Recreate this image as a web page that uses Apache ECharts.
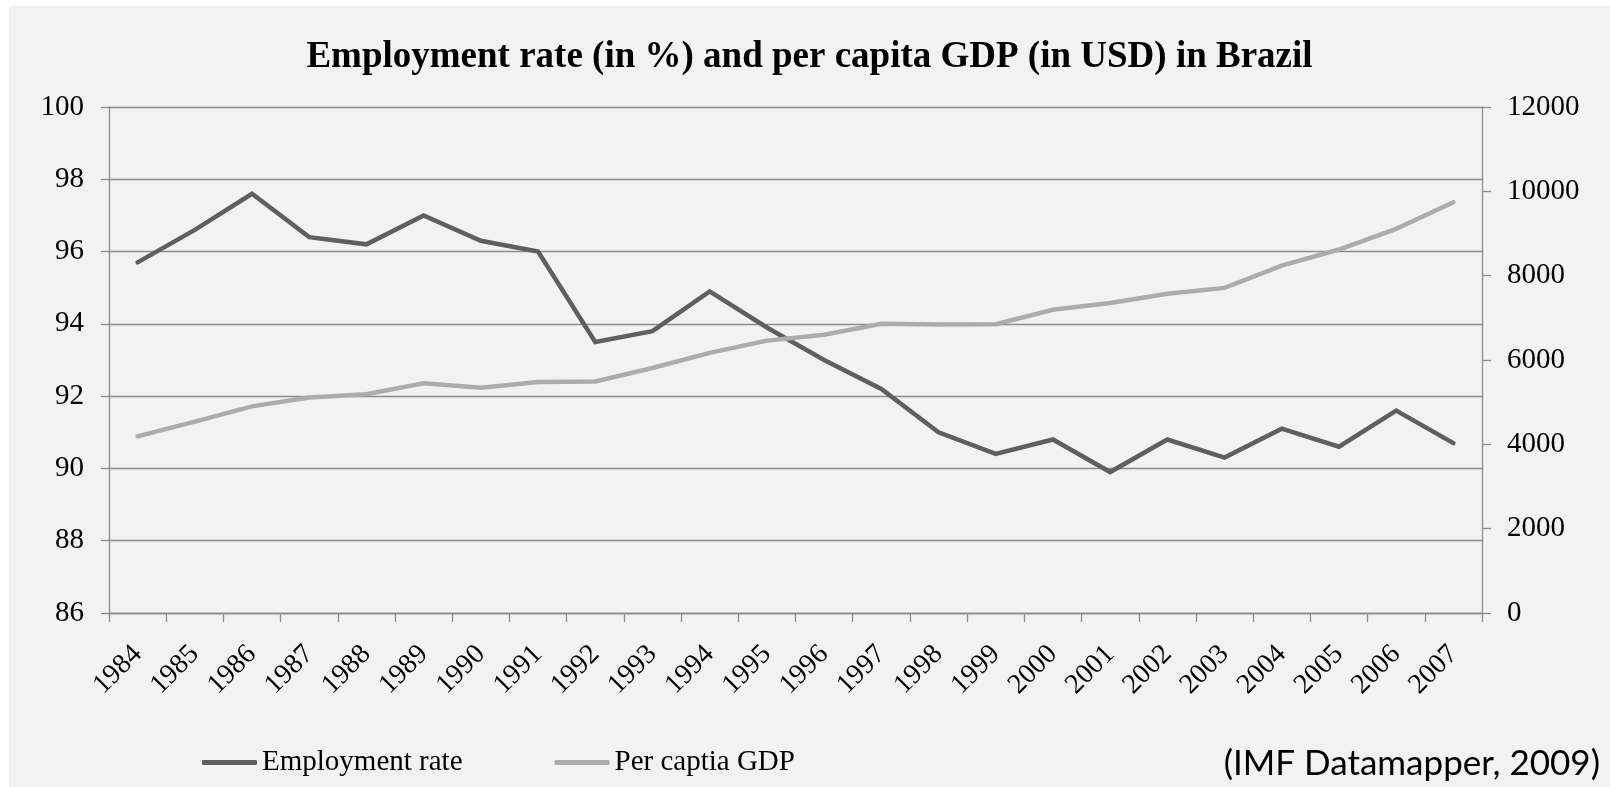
<!DOCTYPE html>
<html>
<head>
<meta charset="utf-8">
<script src="https://cdn.jsdelivr.net/npm/echarts@6/dist/echarts.min.js"></script>
<style>
  html, body { margin: 0; padding: 0; background: #ffffff; }
  #main { position: absolute; left: 9px; top: 6px; width: 1601px; height: 781px; }
</style>
</head>
<body>
<div id="main"></div>
<script>
const years = ['1984','1985','1986','1987','1988','1989','1990','1991','1992','1993','1994','1995',
               '1996','1997','1998','1999','2000','2001','2002','2003','2004','2005','2006','2007'];
const employmentRate = [95.7, 96.6, 97.6, 96.4, 96.2, 97.0, 96.3, 96.0, 93.5, 93.8, 94.9, 93.9,
                        93.0, 92.2, 91.0, 90.4, 90.8, 89.9, 90.8, 90.3, 91.1, 90.6, 91.6, 90.7];
const perCapitaGDP = [4190, 4540, 4900, 5110, 5190, 5450, 5340, 5480, 5490, 5810, 6170, 6460,
                      6600, 6860, 6840, 6850, 7190, 7350, 7570, 7710, 8240, 8620, 9110, 9740];
const titleText = 'Employment rate (in %) and per capita GDP (in USD) in Brazil';
const seriesNames = ['Employment rate', 'Per captia GDP'];
const sourceText = '(IMF Datamapper, 2009)';

const serif = '"Liberation Serif", "Times New Roman", serif';
const axisGray = '#8c8c8c';

const chart = echarts.init(document.getElementById('main'));
chart.setOption({
  backgroundColor: '#f2f2f2',
  animation: false,
  title: {
    text: titleText,
    left: 'center',
    top: 28,
    textStyle: { fontFamily: serif, fontSize: 37, fontWeight: 'bold', color: '#000' }
  },
  legend: {
    data: seriesNames,
    left: 188,
    top: 737,
    icon: 'roundRect',
    itemWidth: 55,
    itemHeight: 5,
    itemGap: 92,
    textStyle: { fontFamily: serif, fontSize: 29, color: '#000' }
  },
  grid: { left: 100, top: 101, right: 128, bottom: 174, containLabel: false },
  xAxis: {
    type: 'category',
    data: years,
    boundaryGap: true,
    axisLine: { show: true, lineStyle: { color: axisGray, width: 1.3 } },
    axisTick: { show: true, length: 9, interval: 0, lineStyle: { color: axisGray, width: 1.3 } },
    axisLabel: { interval: 0, rotate: 45, margin: 37, fontFamily: serif, fontSize: 28, color: '#000' },
    splitLine: { show: false }
  },
  yAxis: [
    {
      type: 'value', min: 86, max: 100, interval: 2, position: 'left',
      axisLine: { show: true, lineStyle: { color: axisGray, width: 1.3 } },
      axisTick: { show: true, length: 8, lineStyle: { color: axisGray, width: 1.3 } },
      axisLabel: { margin: 25, fontFamily: serif, fontSize: 29, color: '#000' },
      splitLine: { show: true, lineStyle: { color: axisGray, width: 1.3 } }
    },
    {
      type: 'value', min: 0, max: 12000, interval: 2000, position: 'right',
      axisLine: { show: true, lineStyle: { color: axisGray, width: 1.3 } },
      axisTick: { show: true, length: 9, lineStyle: { color: axisGray, width: 1.3 } },
      axisLabel: { margin: 25, fontFamily: serif, fontSize: 29, color: '#000',
                   formatter: function (v) { return String(v); } },
      splitLine: { show: false }
    }
  ],
  series: [
    {
      name: seriesNames[0], type: 'line', yAxisIndex: 0, data: employmentRate,
      symbol: 'none', color: '#5f5f5f',
      lineStyle: { color: '#5f5f5f', width: 4.5, cap: 'round', join: 'miter' }
    },
    {
      name: seriesNames[1], type: 'line', yAxisIndex: 1, data: perCapitaGDP,
      symbol: 'none', color: '#acacac',
      lineStyle: { color: '#acacac', width: 4.5, cap: 'round', join: 'miter' }
    }
  ],
  graphic: [
    {
      type: 'text', right: 10, top: 740,
      style: { text: sourceText, font: '35px Lato, "Open Sans", sans-serif', fill: '#000' }
    }
  ]
});
</script>
</body>
</html>
